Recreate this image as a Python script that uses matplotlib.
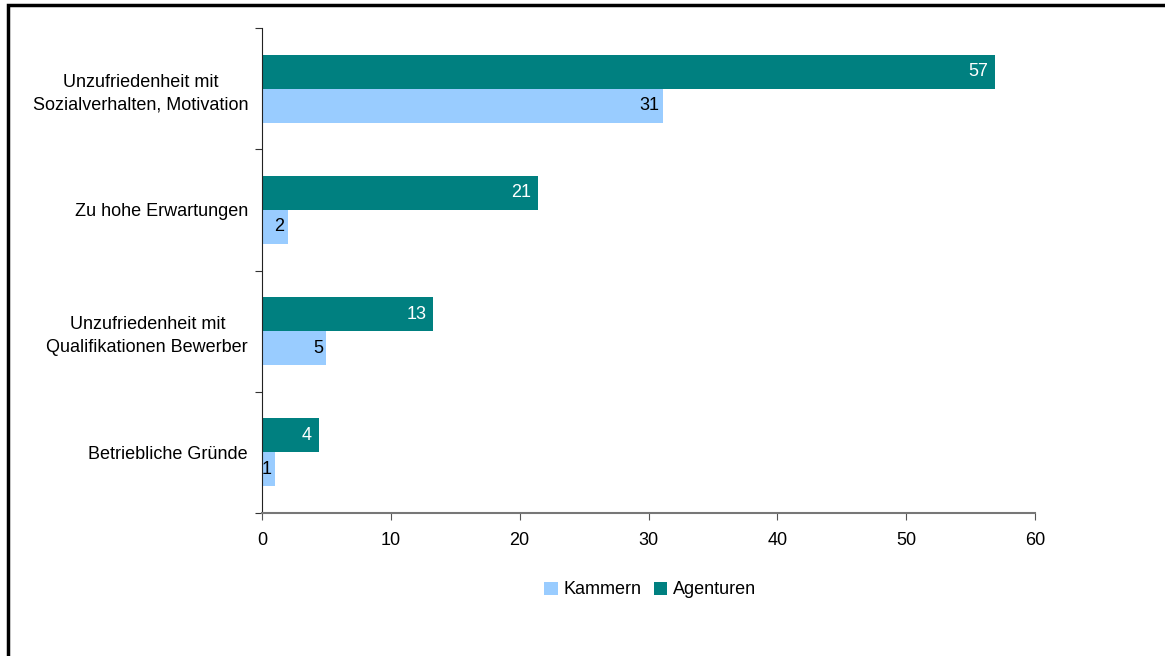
import matplotlib.pyplot as plt
import numpy as np
from matplotlib.patches import Rectangle

plt.rcParams['font.family'] = ['Liberation Sans', 'DejaVu Sans']

categories = ['Unzufriedenheit mit\nSozialverhalten, Motivation',
              'Zu hohe Erwartungen',
              'Unzufriedenheit mit\nQualifikationen Bewerber',
              'Betriebliche Gründe']
agenturen = [56.9, 21.4, 13.3, 4.4]
kammern = [31.1, 2.0, 5.0, 1.0]
agenturen_labels = ['57', '21', '13', '4']
kammern_labels = ['31', '2', '5', '1']

teal = '#008080'
light_blue = '#99CCFF'
fs = 13

fig = plt.figure(figsize=(11.65, 6.56), dpi=100)
ax = fig.add_axes([262 / 1165, 1 - 513 / 656, (1035 - 262) / 1165, (513 - 28) / 656])

# outer frame (cut off at right and bottom like the original)
fig.patches.append(Rectangle((8 / 1165, -0.1), 1.2, 1 - 5 / 656 + 0.1, transform=fig.transFigure,
                             fill=False, edgecolor='black', linewidth=2.5))

y = np.arange(len(categories))
h = 0.28
b_ag = ax.barh(y - h / 2, agenturen, height=h, color=teal, label='Agenturen')
b_ka = ax.barh(y + h / 2, kammern, height=h, color=light_blue, label='Kammern')

for bar, lab in zip(b_ag, agenturen_labels):
    ax.annotate(lab, (bar.get_width(), bar.get_y() + bar.get_height() / 2),
                xytext=(-5, 0), textcoords='offset points', ha='right', va='center',
                color='white', fontsize=fs)
for bar, lab in zip(b_ka, kammern_labels):
    ax.annotate(lab, (bar.get_width(), bar.get_y() + bar.get_height() / 2),
                xytext=(-2.5, 0), textcoords='offset points', ha='right', va='center',
                color='black', fontsize=fs)

ax.set_ylim(len(categories) - 0.5, -0.5)
ax.set_xlim(0, 60)
ax.set_xticks(range(0, 61, 10))
ax.set_yticks(np.arange(-0.5, len(categories), 1))
ax.set_yticklabels([])
ax.set_yticks(y, minor=True)
ax.set_yticklabels(categories, minor=True, fontsize=fs, ha='right',
                   multialignment='center', linespacing=1.45)
ax.tick_params(axis='y', which='minor', length=0, pad=10)
ax.tick_params(axis='y', which='major', length=5, direction='out', color='#333333')
ax.tick_params(axis='x', length=5, labelsize=fs, pad=9, color='#555555')

for s in ['top', 'right']:
    ax.spines[s].set_visible(False)
ax.spines['left'].set_color('#222222')
ax.spines['bottom'].set_color('#777777')
ax.spines['bottom'].set_linewidth(1.5)

handles, labels = ax.get_legend_handles_labels()
fig.legend(handles[::-1], labels[::-1], loc='center', bbox_to_anchor=(650 / 1165, 1 - 590 / 656),
           ncol=2, frameon=False, fontsize=fs, handlelength=0.75, handleheight=0.75,
           handletextpad=0.3, columnspacing=0.7)

fig.savefig('out.png', dpi=100)
